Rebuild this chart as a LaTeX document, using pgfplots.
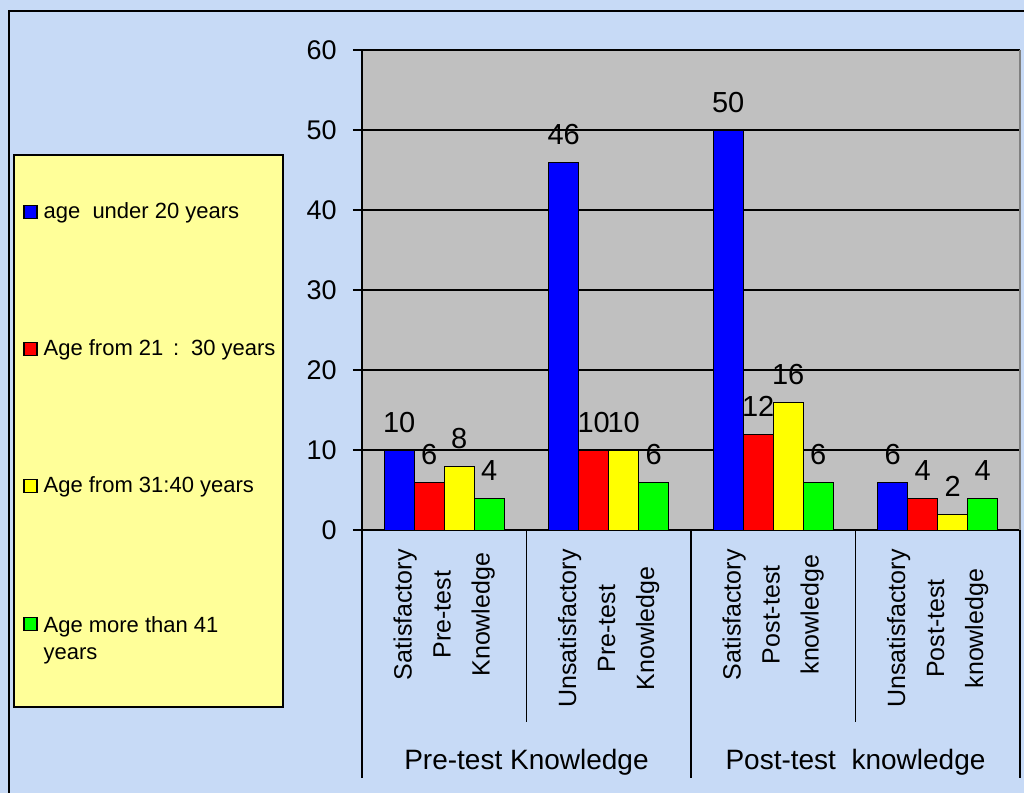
\documentclass[border=0pt]{standalone}
\usepackage{fontspec}
\setmainfont{Liberation Sans}
\usepackage{pgfplots}
\pgfplotsset{compat=1.18}
\definecolor{bgblue}{RGB}{199,218,246}
\definecolor{plotgrey}{RGB}{192,192,192}
\definecolor{legyellow}{RGB}{255,255,153}
\definecolor{xblue}{RGB}{0,0,255}
\definecolor{xred}{RGB}{255,0,0}
\definecolor{xyellow}{RGB}{255,255,0}
\definecolor{xgreen}{RGB}{0,255,0}
\pgfplotsset{
  mybar/.style={fill=#1, draw=black, line width=0.5pt,
    legend image code/.code={\draw[fill=#1,draw=black,line width=0.6pt] (0pt,-3.25pt) rectangle (6.5pt,3.25pt);}},
}
\begin{document}
\begin{tikzpicture}
\fill[bgblue] (0,0) rectangle (512pt,-396.5pt);
\draw[line width=1.2pt] (4.5pt,-396.5pt) -- (4.5pt,-5.5pt) -- (512pt,-5.5pt);
\filldraw[fill=legyellow, draw=black, line width=0.6pt] (7pt,-77.5pt) rectangle (141.5pt,-353.5pt);
\begin{axis}[
  at={(181pt,-265pt)}, anchor=south west, scale only axis,
  width=329pt, height=240pt,
  ybar=0pt, bar width=15pt,
  xmin=-0.5, xmax=3.5, ymin=0, ymax=60,
  ytick={0,10,...,60},
  xtick={0,1,2,3},
  xticklabels={{Satisfactory\\Pre-test\\Knowledge},{Unsatisfactory\\Pre-test\\Knowledge},{Satisfactory\\Post-test\\knowledge},{Unsatisfactory\\Post-test\\knowledge}},
  xticklabel style={rotate=90, anchor=east, align=center, inner sep=0pt, font=\fontsize{12.5}{19.5}\selectfont},
  xticklabel shift=5pt,
  x tick style={draw=none},
  axis x line*=bottom, axis y line*=left,
  xtick pos=bottom, ytick pos=left,
  axis line style={-, black, line width=0.6pt},
  tick align=outside, major tick length=4.5pt,
  y tick style={black, line width=0.6pt},
  yticklabel style={font=\fontsize{13.5}{15}\selectfont, inner sep=0pt, anchor=east},
  yticklabel shift=8pt,
  /pgf/number format/assume math mode=true,
  ymajorgrids, major grid style={black, line width=0.6pt},
  axis background/.style={fill=plotgrey},
  nodes near coords,
  nodes near coords style={font=\fontsize{14.5}{16}\selectfont, inner sep=0pt, anchor=south, yshift=8.5pt, black, /pgf/number format/assume math mode=true},
  legend style={at={(-0.5152,0.6917)}, anchor=north west, draw=none, fill=none, inner sep=0pt, row sep=55pt, column sep=1pt, font=\fontsize{11}{13.5}\selectfont},
  legend cell align=left,
  clip=false,
]
\addplot[mybar=xblue] coordinates {(0,10) (1,46) (2,50) (3,6)};
\addplot[mybar=xred] coordinates {(0,6) (1,10) (2,12) (3,4)};
\addplot[mybar=xyellow] coordinates {(0,8) (1,10) (2,16) (3,2)};
\addplot[mybar=xgreen] coordinates {(0,4) (1,6) (2,6) (3,4)};
\legend{age\ \ under 20 years, Age from 21 \,:\, 30 years, Age from 31:40 years, {\strut\smash{\begin{tabular}[t]{@{}l@{}}Age more than 41\\years\end{tabular}}}}
\draw[color={rgb,255:red,128;green,128;blue,128}, line width=1pt] (rel axis cs:1,0) -- (rel axis cs:1,1);
\draw[line width=0.6pt] (axis cs:-0.5,0) -- ([yshift=-124pt]axis cs:-0.5,0);
\draw[line width=0.6pt] (axis cs:1.5,0) -- ([yshift=-124pt]axis cs:1.5,0);
\draw[line width=0.6pt] (axis cs:3.5,0) -- ([yshift=-124pt]axis cs:3.5,0);
\draw[line width=0.6pt] (axis cs:0.5,0) -- ([yshift=-96pt]axis cs:0.5,0);
\draw[line width=0.6pt] (axis cs:2.5,0) -- ([yshift=-96pt]axis cs:2.5,0);
\node[font=\fontsize{14}{16}\selectfont] at ([yshift=-116pt]axis cs:0.5,0) {Pre-test Knowledge};
\node[font=\fontsize{14}{16}\selectfont] at ([yshift=-116pt]axis cs:2.5,0) {Post-test\ \ knowledge};
\end{axis}
\pgfresetboundingbox
\useasboundingbox (0,0) rectangle (512pt,-396.5pt);
\end{tikzpicture}
\end{document}
